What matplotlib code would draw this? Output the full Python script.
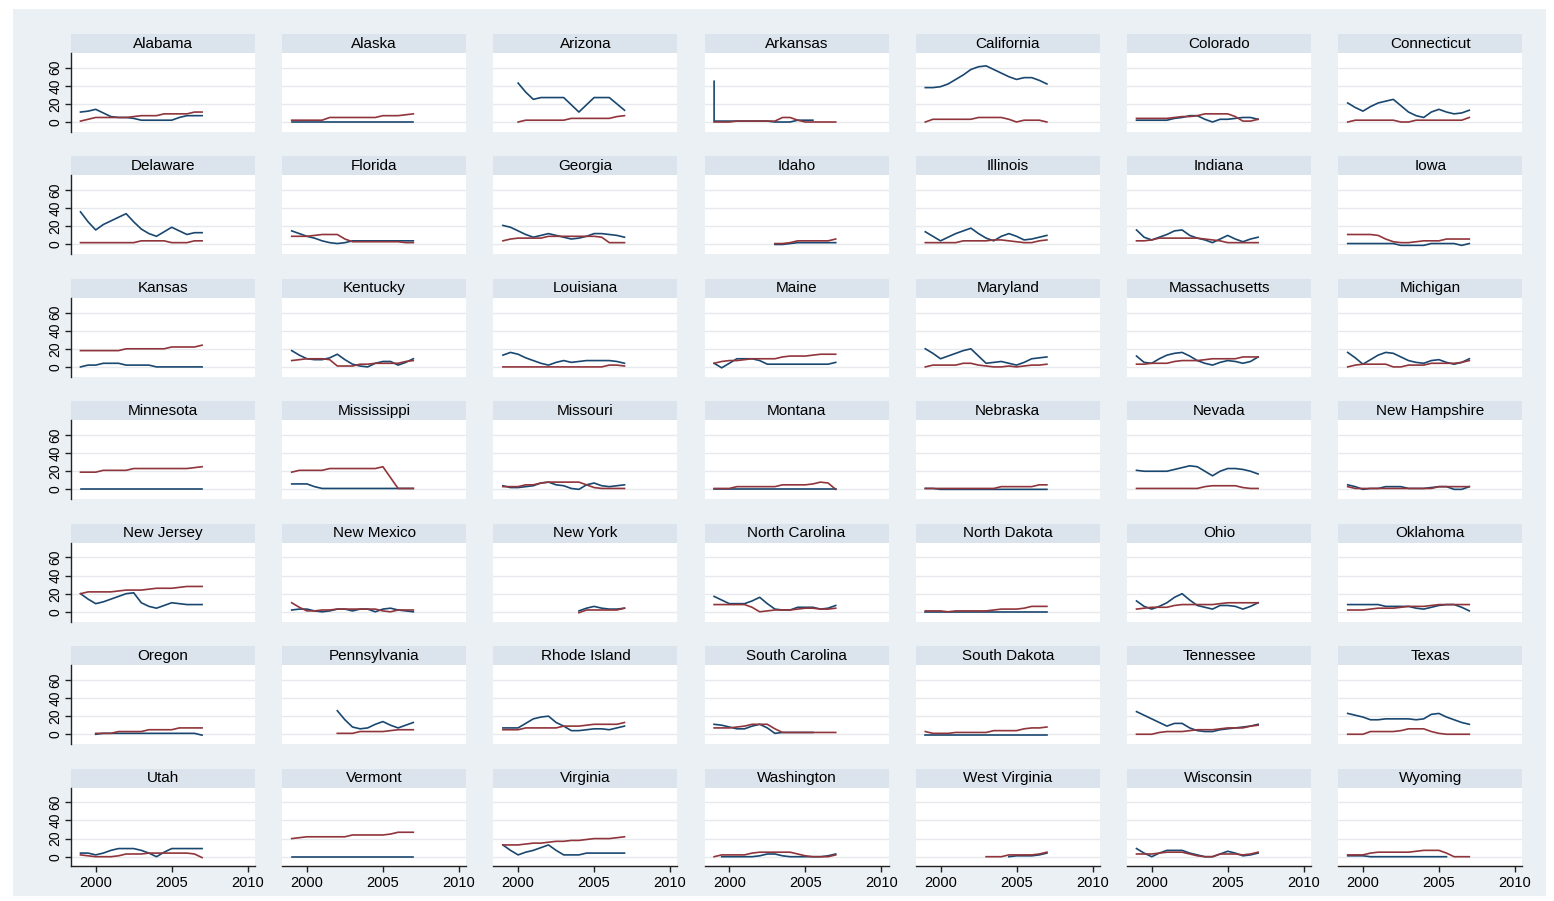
import numpy as np
import matplotlib
matplotlib.use("Agg")
import matplotlib.pyplot as plt
from matplotlib.patches import Rectangle

plt.rcParams['font.family'] = ['Liberation Sans', 'DejaVu Sans']

# half-year grid, 1999 .. 2007
half_years = [1999.0, 1999.5, 2000.0, 2000.5, 2001.0, 2001.5, 2002.0, 2002.5, 2003.0,
              2003.5, 2004.0, 2004.5, 2005.0, 2005.5, 2006.0, 2006.5, 2007.0]
N = None

states = ["Alabama", "Alaska", "Arizona", "Arkansas", "California", "Colorado", "Connecticut",
          "Delaware", "Florida", "Georgia", "Idaho", "Illinois", "Indiana", "Iowa",
          "Kansas", "Kentucky", "Louisiana", "Maine", "Maryland", "Massachusetts", "Michigan",
          "Minnesota", "Mississippi", "Missouri", "Montana", "Nebraska", "Nevada", "New Hampshire",
          "New Jersey", "New Mexico", "New York", "North Carolina", "North Dakota", "Ohio", "Oklahoma",
          "Oregon", "Pennsylvania", "Rhode Island", "South Carolina", "South Dakota", "Tennessee", "Texas",
          "Utah", "Vermont", "Virginia", "Washington", "West Virginia", "Wisconsin", "Wyoming"]

# first series (navy)
blue = {
    "Alabama": [11, 12, 14, 10, 6, 5, 5, 4, 2, 2, 2, 2, 2, 5, 7, 7, 7],
    "Alaska": [0, 0, 0, 0, 0, 0, 0, 0, 0, 0, 0, 0, 0, 0, 0, 0, 0],
    "Arizona": [N, N, 43, 33, 25, 27, 27, 27, 27, 19, 11, 19, 27, 27, 27, 20, 13],
    "Arkansas": [1, 1, 1, 1, 1, 1, 1, 1, 0, 0, 0, 2, 2, 2, N, N, N],
    "California": [38, 38, 39, 42, 47, 52, 58, 61, 62, 58, 54, 50, 47, 49, 49, 46, 42],
    "Colorado": [2, 2, 2, 2, 2, 4, 5, 7, 7, 3, 0, 3, 3, 4, 5, 5, 3],
    "Connecticut": [21, 16, 12, 17, 21, 23, 25, 18, 11, 7, 5, 11, 14, 11, 9, 10, 13],
    "Delaware": [36, 25, 16, 22, 26, 30, 34, 25, 17, 12, 9, 14, 19, 15, 11, 13, 13],
    "Florida": [15, 12, 9, 7, 4, 2, 1, 2, 4, 4, 4, 4, 4, 4, 4, 4, 4],
    "Georgia": [21, 19, 15, 11, 8, 10, 12, 10, 8, 6, 7, 9, 12, 12, 11, 10, 8],
    "Idaho": [N, N, N, N, N, N, N, N, 0, 0, 1, 2, 2, 2, 2, 2, 2],
    "Illinois": [14, 9, 4, 8, 12, 15, 18, 12, 7, 4, 9, 12, 9, 5, 6, 8, 10],
    "Indiana": [16, 8, 5, 8, 11, 15, 16, 10, 7, 5, 2, 6, 10, 6, 3, 6, 8],
    "Iowa": [1, 1, 1, 1, 1, 1, 1, -1, -1, -1, -1, 1, 1, 1, 1, -1, 1],
    "Kansas": [0, 2, 2, 4, 4, 4, 2, 2, 2, 2, 0, 0, 0, 0, 0, 0, 0],
    "Kentucky": [18, 13, 9, 8, 8, 10, 14, 8, 3, 1, 0, 4, 6, 6, 2, 5, 9],
    "Louisiana": [13, 16, 14, 10, 7, 4, 2, 5, 7, 5, 6, 7, 7, 7, 7, 6, 4],
    "Maine": [4, -1, 4, 9, 9, 9, 7, 3, 3, 3, 3, 3, 3, 3, 3, 3, 5],
    "Maryland": [20, 15, 9, 12, 15, 18, 20, 12, 4, 5, 6, 4, 2, 5, 9, 10, 11],
    "Massachusetts": [12, 5, 4, 9, 13, 15, 16, 12, 7, 4, 2, 5, 7, 6, 4, 6, 11],
    "Michigan": [16, 10, 3, 8, 13, 16, 15, 11, 7, 5, 4, 7, 8, 5, 3, 5, 9],
    "Minnesota": [0, 0, 0, 0, 0, 0, 0, 0, 0, 0, 0, 0, 0, 0, 0, 0, 0],
    "Mississippi": [6, 6, 6, 3, 1, 1, 1, 1, 1, 1, 1, 1, 1, 1, 1, 1, 1],
    "Missouri": [4, 2, 2, 3, 4, 7, 8, 5, 4, 1, 0, 5, 7, 4, 3, 4, 5],
    "Montana": [0, 0, 0, 0, 0, 0, 0, 0, 0, 0, 0, 0, 0, 0, 0, 0, 0],
    "Nebraska": [1, 1, 0, 0, 0, 0, 0, 0, 0, 0, 0, 0, 0, 0, 0, 0, 0],
    "Nevada": [21, 20, 20, 20, 20, 22, 24, 26, 25, 20, 15, 20, 23, 23, 22, 20, 17],
    "New Hampshire": [5, 3, 0, 1, 1, 3, 3, 3, 1, 1, 1, 2, 3, 3, 0, 0, 3],
    "New Jersey": [20, 14, 9, 11, 14, 17, 20, 21, 10, 6, 4, 7, 10, 9, 8, 8, 8],
    "New Mexico": [2, 3, 3, 1, 0, 1, 3, 3, 1, 3, 3, 0, 3, 4, 2, 1, 0],
    "New York": [N, N, N, N, N, N, N, N, N, N, 1, 4, 6, 4, 3, 3, 4],
    "North Carolina": [17, 13, 9, 9, 9, 12, 16, 9, 3, 2, 2, 5, 5, 5, 3, 4, 7],
    "North Dakota": [0, 0, 0, 0, 0, 0, 0, 0, 0, 0, 0, 0, 0, 0, 0, 0, 0],
    "Ohio": [12, 6, 3, 6, 10, 16, 20, 13, 7, 5, 3, 7, 7, 6, 3, 6, 10],
    "Oklahoma": [8, 8, 8, 8, 8, 6, 6, 6, 6, 4, 3, 5, 7, 8, 8, 5, 1],
    "Oregon": [N, N, 0, 1, 1, 1, 1, 1, 1, 1, 1, 1, 1, 1, 1, 1, -1],
    "Pennsylvania": [N, N, N, N, N, N, 26, 16, 8, 6, 7, 11, 14, 10, 7, 10, 13],
    "Rhode Island": [7, 7, 7, 12, 17, 19, 20, 13, 9, 4, 4, 5, 6, 6, 5, 7, 9],
    "South Carolina": [11, 10, 8, 6, 6, 9, 11, 7, 1, 2, 2, 2, 2, 2, N, N, N],
    "South Dakota": [-1, -1, -1, -1, -1, -1, -1, -1, -1, -1, -1, -1, -1, -1, -1, -1, -1],
    "Tennessee": [25, 21, 17, 13, 9, 12, 12, 7, 4, 3, 3, 5, 6, 7, 8, 9, 11],
    "Texas": [23, 21, 19, 16, 16, 17, 17, 17, 17, 16, 17, 22, 23, 19, 16, 13, 11],
    "Utah": [4, 4, 2, 4, 7, 9, 9, 9, 7, 4, 0, 5, 9, 9, 9, 9, 9],
    "Vermont": [0, 0, 0, 0, 0, 0, 0, 0, 0, 0, 0, 0, 0, 0, 0, 0, 0],
    "Virginia": [13, 7, 2, 5, 7, 10, 13, 7, 2, 2, 2, 4, 4, 4, 4, 4, 4],
    "Washington": [N, 0, 0, 0, 0, 0, 1, 3, 3, 1, 0, 0, 0, 0, 0, 1, 3],
    "West Virginia": [N, N, N, N, N, N, N, N, N, N, N, 0, 1, 1, 1, 2, 4],
    "Wisconsin": [9, 4, 0, 4, 7, 7, 7, 4, 2, 0, 0, 3, 6, 4, 1, 2, 4],
    "Wyoming": [1, 1, 1, 0, 0, 0, 0, 0, 0, 0, 0, 0, 0, 0, N, N, N],
}

# second series (maroon)
red = {
    "Alabama": [1, 3, 5, 5, 5, 5, 5, 6, 7, 7, 7, 9, 9, 9, 9, 11, 11],
    "Alaska": [2, 2, 2, 2, 2, 5, 5, 5, 5, 5, 5, 5, 7, 7, 7, 8, 9],
    "Arizona": [N, N, 0, 2, 2, 2, 2, 2, 2, 4, 4, 4, 4, 4, 4, 6, 7],
    "Arkansas": [0, 0, 0, 1, 1, 1, 1, 1, 1, 5, 5, 2, 0, 0, 0, 0, 0],
    "California": [0, 3, 3, 3, 3, 3, 3, 5, 5, 5, 5, 3, 0, 2, 2, 2, 0],
    "Colorado": [4, 4, 4, 4, 4, 5, 6, 6, 7, 9, 9, 9, 9, 6, 1, 1, 3],
    "Connecticut": [0, 2, 2, 2, 2, 2, 2, 0, 0, 2, 2, 2, 2, 2, 2, 2, 5],
    "Delaware": [2, 2, 2, 2, 2, 2, 2, 2, 4, 4, 4, 4, 2, 2, 2, 4, 4],
    "Florida": [9, 9, 9, 10, 11, 11, 11, 6, 3, 3, 3, 3, 3, 3, 3, 2, 2],
    "Georgia": [4, 6, 7, 7, 7, 7, 9, 9, 9, 9, 9, 9, 9, 8, 2, 2, 2],
    "Idaho": [N, N, N, N, N, N, N, N, 1, 1, 2, 4, 4, 4, 4, 4, 6],
    "Illinois": [2, 2, 2, 2, 2, 4, 4, 4, 4, 5, 5, 4, 3, 2, 2, 4, 5],
    "Indiana": [4, 4, 5, 7, 7, 7, 7, 7, 7, 6, 5, 4, 2, 2, 2, 2, 2],
    "Iowa": [11, 11, 11, 11, 10, 6, 3, 2, 2, 3, 4, 4, 4, 6, 6, 6, 6],
    "Kansas": [18, 18, 18, 18, 18, 18, 20, 20, 20, 20, 20, 20, 22, 22, 22, 22, 24],
    "Kentucky": [7, 8, 9, 9, 9, 8, 1, 1, 1, 3, 3, 4, 4, 4, 4, 6, 7],
    "Louisiana": [0, 0, 0, 0, 0, 0, 0, 0, 0, 0, 0, 0, 0, 0, 2, 2, 1],
    "Maine": [4, 6, 7, 7, 8, 9, 9, 9, 9, 11, 12, 12, 12, 13, 14, 14, 14],
    "Maryland": [0, 2, 2, 2, 2, 4, 4, 2, 1, 0, 0, 1, 0, 1, 2, 2, 3],
    "Massachusetts": [3, 3, 4, 4, 4, 6, 7, 7, 7, 8, 9, 9, 9, 9, 11, 11, 11],
    "Michigan": [0, 2, 3, 3, 3, 3, 0, 0, 2, 2, 2, 4, 4, 4, 4, 5, 7],
    "Minnesota": [19, 19, 19, 21, 21, 21, 21, 23, 23, 23, 23, 23, 23, 23, 23, 24, 25],
    "Mississippi": [19, 21, 21, 21, 21, 23, 23, 23, 23, 23, 23, 23, 25, 13, 1, 1, 1],
    "Missouri": [3, 3, 3, 5, 5, 7, 8, 8, 8, 8, 8, 5, 2, 1, 1, 1, 1],
    "Montana": [1, 1, 1, 3, 3, 3, 3, 3, 3, 5, 5, 5, 5, 6, 8, 7, 0],
    "Nebraska": [1, 1, 1, 1, 1, 1, 1, 1, 1, 1, 3, 3, 3, 3, 3, 5, 5],
    "Nevada": [1, 1, 1, 1, 1, 1, 1, 1, 1, 3, 4, 4, 4, 4, 2, 1, 1],
    "New Hampshire": [3, 1, 1, 1, 1, 1, 1, 1, 1, 1, 1, 1, 3, 3, 3, 3, 3],
    "New Jersey": [20, 22, 22, 22, 22, 23, 24, 24, 24, 25, 26, 26, 26, 27, 28, 28, 28],
    "New Mexico": [10, 5, 1, 1, 2, 2, 3, 3, 3, 3, 3, 3, 1, 0, 2, 2, 2],
    "New York": [N, N, N, N, N, N, N, N, N, N, -1, 2, 2, 2, 2, 2, 4],
    "North Carolina": [8, 8, 8, 8, 8, 5, 0, 1, 2, 2, 2, 3, 4, 4, 3, 3, 4],
    "North Dakota": [1, 1, 1, 0, 1, 1, 1, 1, 1, 2, 3, 3, 3, 4, 6, 6, 6],
    "Ohio": [3, 4, 5, 5, 5, 7, 8, 8, 8, 8, 8, 9, 10, 10, 10, 10, 10],
    "Oklahoma": [2, 2, 2, 3, 4, 4, 4, 5, 6, 6, 6, 7, 8, 8, 8, 8, 8],
    "Oregon": [N, N, 1, 1, 1, 3, 3, 3, 3, 5, 5, 5, 5, 7, 7, 7, 7],
    "Pennsylvania": [N, N, N, N, N, N, 1, 1, 1, 3, 3, 3, 3, 4, 5, 5, 5],
    "Rhode Island": [5, 5, 5, 7, 7, 7, 7, 7, 9, 9, 9, 10, 11, 11, 11, 11, 13],
    "South Carolina": [7, 7, 7, 8, 9, 11, 11, 11, 6, 2, 2, 2, 2, 2, 2, 2, 2],
    "South Dakota": [3, 1, 1, 1, 2, 2, 2, 2, 2, 4, 4, 4, 4, 6, 7, 7, 8],
    "Tennessee": [0, 0, 0, 2, 3, 3, 3, 4, 5, 5, 5, 6, 7, 7, 7, 9, 10],
    "Texas": [0, 0, 0, 3, 3, 3, 3, 4, 6, 6, 6, 3, 1, 0, 0, 0, 0],
    "Utah": [2, 1, 0, 0, 0, 1, 3, 3, 3, 4, 4, 4, 4, 4, 4, 3, -1],
    "Vermont": [20, 21, 22, 22, 22, 22, 22, 22, 24, 24, 24, 24, 24, 25, 27, 27, 27],
    "Virginia": [13, 13, 13, 14, 15, 15, 16, 17, 17, 18, 18, 19, 20, 20, 20, 21, 22],
    "Washington": [0, 2, 2, 2, 2, 4, 5, 5, 5, 5, 5, 3, 1, 0, 0, 0, 2],
    "West Virginia": [N, N, N, N, N, N, N, N, 0, 0, 0, 2, 2, 2, 2, 3, 5],
    "Wisconsin": [3, 3, 3, 4, 5, 5, 5, 3, 1, 0, 0, 3, 3, 3, 2, 3, 5],
    "Wyoming": [2, 2, 2, 4, 5, 5, 5, 5, 5, 6, 7, 7, 7, 4, 0, 0, 0],
}

# Arkansas has one extra early observation (the spike at the start)
arkansas_spike_year = 1999.0
arkansas_spike_blue = 45

y_ticks = [0, 20, 40, 60]
x_ticks = [2000, 2005, 2010]

BLUE = "#1a476f"
RED = "#90353b"
BG = "#ebf0f5"
STRIP = "#dbe3ec"
GRID = "#e6eaee"

W, H = 1554, 901
fig = plt.figure(figsize=(W / 100, H / 100), dpi=100, facecolor="white")
fig.patches.append(Rectangle((13 / W, 1 - 896 / H), (1546 - 13) / W, (896 - 9) / H,
                             transform=fig.transFigure, facecolor=BG, edgecolor="none", zorder=-10))

col_pitch, row_pitch = 211.2, 122.45
pw = 184
for i, st in enumerate(states):
    r, c = divmod(i, 7)
    left = 71 + col_pitch * c
    s_top = 34 + row_pitch * r
    s_bot = s_top + 19
    p_bot = 131.7 + row_pitch * r

    # title strip
    fig.patches.append(Rectangle((left / W, 1 - s_bot / H), pw / W, (s_bot - s_top) / H,
                                 transform=fig.transFigure, facecolor=STRIP, edgecolor="none", zorder=-5))
    fig.text((left + pw / 2) / W, 1 - (s_top + s_bot) / 2 / H, st, ha="center", va="center",
             fontsize=11, color="#000000")

    ax = fig.add_axes([left / W, 1 - p_bot / H, pw / W, (p_bot - s_bot) / H])
    ax.set_zorder(2)
    ax.set_facecolor("white")
    ax.set_xlim(1998.375, 2010.48)
    ax.set_ylim(-10.7, 76.2)
    for yv in y_ticks:
        ax.axhline(yv, color=GRID, lw=1.0, zorder=1)

    xb = list(half_years)
    yb = [np.nan if v is None else v for v in blue[st]]
    if st == "Arkansas":
        xb = [arkansas_spike_year] + xb
        yb = [arkansas_spike_blue] + yb
    yr = [np.nan if v is None else v for v in red[st]]
    ax.plot(xb, yb, color=BLUE, lw=1.2, zorder=3)
    ax.plot(half_years, yr, color=RED, lw=1.2, zorder=4)

    for sp in ax.spines.values():
        sp.set_visible(False)
    ax.set_yticks(y_ticks)
    ax.set_xticks(x_ticks)
    if c == 0:
        ax.spines["left"].set_visible(True)
        ax.spines["left"].set_color("#222222")
        ax.spines["left"].set_linewidth(1.0)
        ax.tick_params(axis="y", length=4, width=1.0, color="#222222", labelsize=10, pad=2)
        for lab in ax.get_yticklabels():
            lab.set_rotation(90)
            lab.set_va("center")
    else:
        ax.tick_params(axis="y", left=False, labelleft=False)
    if r == 6:
        ax.spines["bottom"].set_visible(True)
        ax.spines["bottom"].set_color("#222222")
        ax.spines["bottom"].set_linewidth(1.0)
        ax.tick_params(axis="x", length=4, width=1.0, color="#222222", labelsize=10.5, pad=3)
    else:
        ax.tick_params(axis="x", bottom=False, labelbottom=False)

fig.savefig("out.png", dpi=100, facecolor="white")
